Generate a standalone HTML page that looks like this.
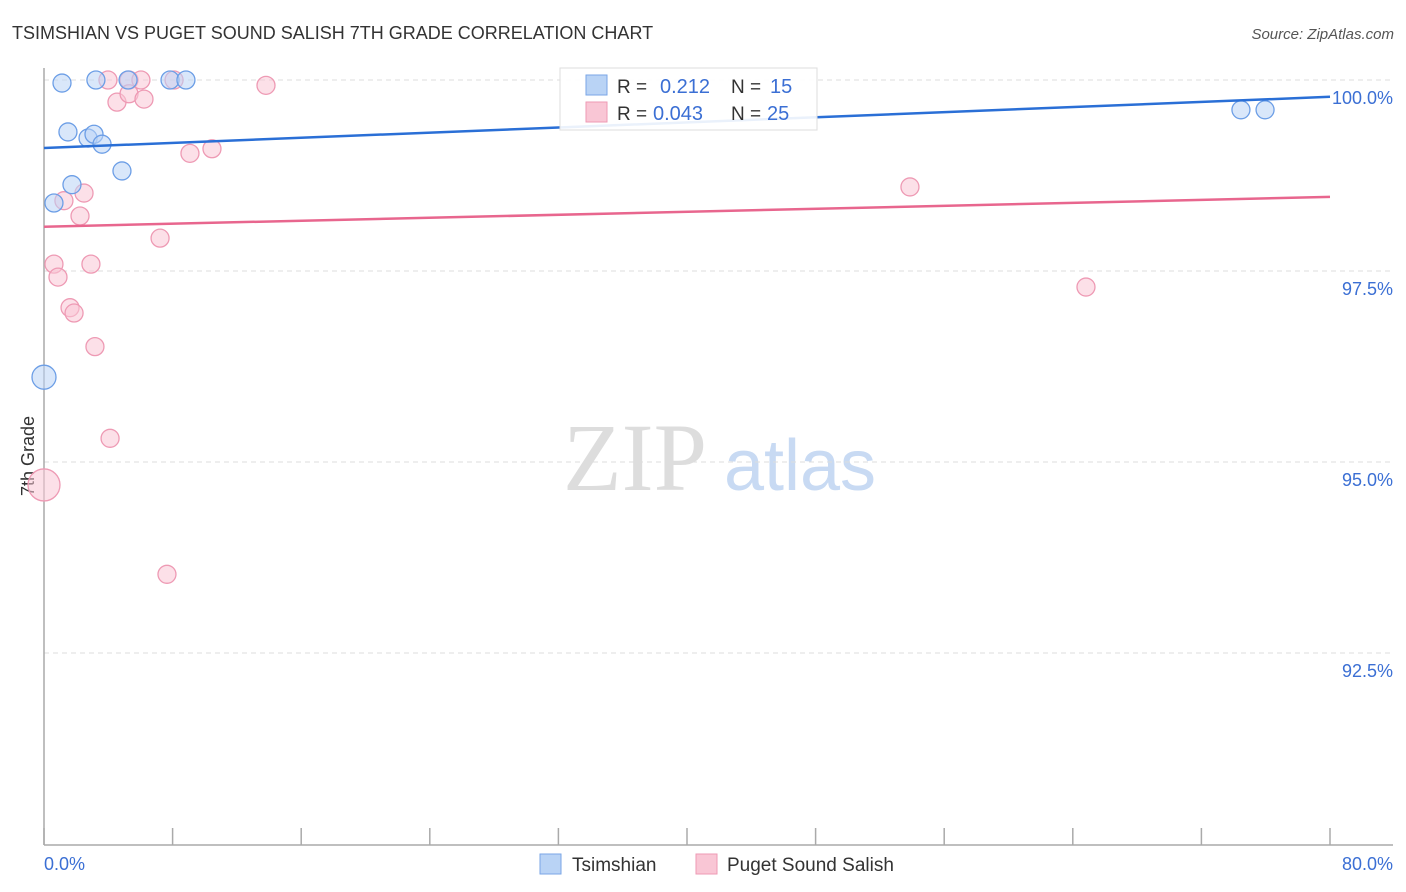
<!DOCTYPE html>
<html><head><meta charset="utf-8"><style>
body{margin:0;background:#fff;font-family:"Liberation Sans",sans-serif;}
svg{display:block}
</style></head><body>
<svg id="c" width="1406" height="892" xmlns="http://www.w3.org/2000/svg">
<text x="12" y="39" font-size="18" fill="#333">TSIMSHIAN VS PUGET SOUND SALISH 7TH GRADE CORRELATION CHART</text>
<text x="1394" y="39" font-size="15" fill="#555" font-style="italic" text-anchor="end">Source: ZipAtlas.com</text>
<text x="635" y="490" font-size="96" fill="#ddd" font-family="Liberation Serif,serif" text-anchor="middle">ZIP</text>
<text x="800" y="490" font-size="72" fill="#c8daf3" text-anchor="middle">atlas</text>
<g id="grid"></g>
<line x1="44" y1="68" x2="44" y2="845" stroke="#aaa" stroke-width="1.5"/>
<line x1="44" y1="845" x2="1393" y2="845" stroke="#aaa" stroke-width="1.5"/>
<text transform="translate(34,456) rotate(-90)" font-size="18" fill="#333" text-anchor="middle">7th Grade</text>
<text x="44" y="870" font-size="18" fill="#3b6fd4">0.0%</text>
<text x="1393" y="870" font-size="18" fill="#3b6fd4" text-anchor="end">80.0%</text>
<g id="pts"></g>
<g id="lines"></g>
<g>
<rect x="560" y="68" width="257" height="62" fill="#fff" fill-opacity="0.9" stroke="#ddd"/>
<rect x="586" y="75" width="21" height="20" fill="#b9d3f5" stroke="#7aa6e6"/>
<rect x="586" y="102" width="21" height="20" fill="#f9c6d5" stroke="#ee9ab4"/>
<text x="617" y="93" font-size="19" fill="#333">R = </text><text x="660" y="93" font-size="20" fill="#3b6fd4">0.212</text>
<text x="731" y="93" font-size="19" fill="#333">N = </text><text x="770" y="93" font-size="20" fill="#3b6fd4">15</text>
<text x="617" y="120" font-size="19" fill="#333">R = </text><text x="653" y="120" font-size="20" fill="#3b6fd4">0.043</text>
<text x="731" y="120" font-size="19" fill="#333">N = </text><text x="767" y="120" font-size="20" fill="#3b6fd4">25</text>
</g>
<g>
<rect x="540" y="854" width="21" height="20" fill="#b9d3f5" stroke="#7aa6e6"/>
<text x="572" y="871" font-size="19" fill="#333">Tsimshian</text>
<rect x="696" y="854" width="21" height="20" fill="#f9c6d5" stroke="#ee9ab4"/>
<text x="727" y="871" font-size="19" fill="#333">Puget Sound Salish</text>
</g>
</svg>
<script>
const yTicks=[100,97.5,95,92.5];
const yTickLabels=["100.0%","97.5%","95.0%","92.5%"];
const blueX=[1.12,3.23,5.23,7.84,8.83,1.49,2.74,3.11,3.61,4.85,1.74,0.62,0,74.46,75.96];
const blueY=[99.96,100,100,100,100,99.32,99.24,99.29,99.16,98.81,98.63,98.39,96.11,99.61,99.61];
const blueR=[9,9,9,9,9,9,9,9,9,9,9,9,12,9,9];
const pinkX=[3.98,5.29,6.03,8.09,13.81,4.54,5.29,6.22,9.08,10.45,53.87,2.49,1.24,2.24,7.22,0.62,2.92,0.87,1.62,1.87,3.17,4.11,0,7.65,64.82];
const pinkY=[100,100,100,100,99.93,99.71,99.82,99.75,99.04,99.10,98.60,98.52,98.42,98.22,97.93,97.59,97.59,97.42,97.02,96.95,96.51,95.31,94.70,93.53,97.29];
const pinkR=[9,9,9,9,9,9,9,9,9,9,9,9,9,9,9,9,9,9,9,9,9,9,16,9,9];
const blueTrend=[99.11,99.78];
const pinkTrend=[98.08,98.47];
const NS="http://www.w3.org/2000/svg";
const X=v=>44+v*(1330-44)/80;
const Y=v=>80+(100-v)*76.4;
function mk(t,a,p){const e=document.createElementNS(NS,t);for(const k in a)e.setAttribute(k,a[k]);p.appendChild(e);return e;}
const grid=document.getElementById('grid');
yTicks.forEach((t,i)=>{
 const l=mk('line',{x1:44,x2:1393,y1:Y(t),y2:Y(t),stroke:'#ddd','stroke-dasharray':'5,4'},grid);
 
 
 const tx=mk('text',{x:1393,y:Y(t)+24,'font-size':18,fill:'#3b6fd4','text-anchor':'end'},grid);
 tx.textContent=yTickLabels[i];
 
 
});
for(let i=0;i<=10;i++){
 const l=mk('line',{x1:X(i*8),x2:X(i*8),y1:828,y2:845,stroke:'#aaa','stroke-width':1.5},grid);
 
 
}
const pts=document.getElementById('pts');
pinkX.forEach((x,i)=>{
 const c=mk('circle',{cx:X(x),cy:Y(pinkY[i]),r:pinkR[i],fill:'#f9c6d5','fill-opacity':0.55,stroke:'#ee9ab4','stroke-width':1.3},pts);
 
 
});
blueX.forEach((x,i)=>{
 const c=mk('circle',{cx:X(x),cy:Y(blueY[i]),r:blueR[i],fill:'#b9d3f5','fill-opacity':0.55,stroke:'#6c9ee6','stroke-width':1.3},pts);
 
 
});
const lines=document.getElementById('lines');
const bl=mk('line',{x1:X(0),y1:Y(blueTrend[0]),x2:X(80),y2:Y(blueTrend[1]),stroke:'#2a6fd6','stroke-width':2.5},lines);


const pl=mk('line',{x1:X(0),y1:Y(pinkTrend[0]),x2:X(80),y2:Y(pinkTrend[1]),stroke:'#e8668e','stroke-width':2.5},lines);


</script>
</body></html>
